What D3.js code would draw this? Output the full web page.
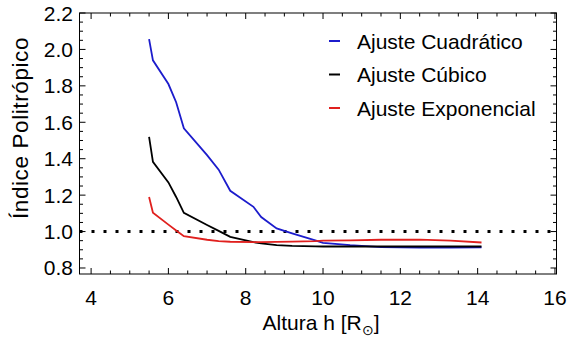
<!DOCTYPE html>
<html><head><meta charset="utf-8">
<script src="https://cdn.jsdelivr.net/npm/d3@7"></script>
<style>body{margin:0;background:#fff}svg{display:block}text{font-family:"Liberation Sans",Arial,sans-serif;fill:#000}</style>
</head><body>
<script>
const heights = [5.5,5.6,6.0,6.2,6.4,7.0,7.3,7.6,8.2,8.4,8.8,9.2,9.8,10.0,10.7,11.5,12.5,13.3,14.1];
const cuadratico = [2.057,1.94,1.81,1.71,1.567,1.42,1.34,1.224,1.136,1.08,1.017,0.99,0.952,0.938,0.925,0.915,0.912,0.912,0.913];
const cubico = [1.52,1.383,1.27,1.19,1.103,1.036,1.004,0.971,0.942,0.935,0.926,0.921,0.919,0.918,0.918,0.918,0.918,0.918,0.918];
const exponencial = [1.19,1.103,1.038,1.006,0.975,0.955,0.948,0.944,0.942,0.942,0.943,0.945,0.948,0.95,0.952,0.955,0.956,0.95,0.94];
const seriesNames = ["Ajuste Cuadrático","Ajuste Cúbico","Ajuste Exponencial"];
const seriesColors = ["#1c1ccc","#000000","#e0201e"];
const xTicks = [4,6,8,10,12,14,16];
const yTicks = [0.8,1.0,1.2,1.4,1.6,1.8,2.0,2.2];
const refLevel = 1.0;

const W=567,H=337;
const L=79.5,R=556.5,T=13,B=274;
const FS=21;
const svg=d3.select("body").append("svg").attr("width",W).attr("height",H);
const x=d3.scaleLinear().domain([3.7,16.04]).range([L,R]);
const y=d3.scaleLinear().domain([0.767,2.2]).range([B,T]);

// minor ticks
const xMinor=d3.range(4,16.01,0.5);
const yMinor=d3.range(0.8,2.201,0.05);
const g=svg.append("g").attr("stroke","#000").attr("stroke-width",1);
xMinor.forEach(v=>{
  const major=Math.abs(v-Math.round(v/2)*2)<1e-6;
  const len=major?6:3.5;
  g.append("line").attr("x1",x(v)).attr("x2",x(v)).attr("y1",B).attr("y2",B-len);
  g.append("line").attr("x1",x(v)).attr("x2",x(v)).attr("y1",T).attr("y2",T+len);
});
yMinor.forEach(v=>{
  const major=Math.abs(v*5-Math.round(v*5))<1e-6;
  const len=major?6:3.5;
  g.append("line").attr("y1",y(v)).attr("y2",y(v)).attr("x1",L).attr("x2",L+len);
  g.append("line").attr("y1",y(v)).attr("y2",y(v)).attr("x1",R).attr("x2",R-len);
});
svg.append("rect").attr("x",L).attr("y",T).attr("width",R-L).attr("height",B-T)
  .attr("fill","none").attr("stroke","#000").attr("stroke-width",1);

// tick labels
svg.append("g").selectAll("text").data(xTicks).join("text")
  .attr("x",d=>x(d)).attr("y",305).attr("text-anchor","middle").attr("font-size",FS).text(d=>d);
svg.append("g").selectAll("text").data(yTicks).join("text")
  .attr("x",73).attr("y",d=>y(d)+7.5).attr("text-anchor","end").attr("font-size",FS).text(d=>d.toFixed(1));

// axis titles
const xt=svg.append("text").attr("x",321).attr("y",330).attr("text-anchor","middle").attr("font-size",FS);
xt.append("tspan").text("Altura h [R");
xt.append("tspan").attr("font-size",14).attr("dy",5).text("\u2299");
xt.append("tspan").attr("dy",-5).text("]");
svg.append("text").attr("transform","translate(28,128) rotate(-90)").attr("text-anchor","middle")
  .attr("font-size",22.5).attr("letter-spacing",0.6).text("Índice Politrópico");

// reference dotted line
svg.append("line").attr("x1",L).attr("x2",R).attr("y1",y(refLevel)).attr("y2",y(refLevel))
  .attr("stroke","#000").attr("stroke-width",3).attr("stroke-dasharray","3,9");

// series
const data=[cuadratico,cubico,exponencial];
const line=d3.line().x((d,i)=>x(heights[i])).y(d=>y(d));
data.forEach((s,k)=>{
  svg.append("path").attr("d",line(s)).attr("fill","none").attr("stroke",seriesColors[k]).attr("stroke-width",1.8);
});

// legend
const lg=svg.append("g");
seriesNames.forEach((n,k)=>{
  const yy=41+k*33.5;
  lg.append("line").attr("x1",329).attr("x2",340).attr("y1",yy).attr("y2",yy).attr("stroke",seriesColors[k]).attr("stroke-width",2);
  lg.append("text").attr("x",357).attr("y",yy+7.5).attr("font-size",FS).text(n);
});
</script>
</body></html>
